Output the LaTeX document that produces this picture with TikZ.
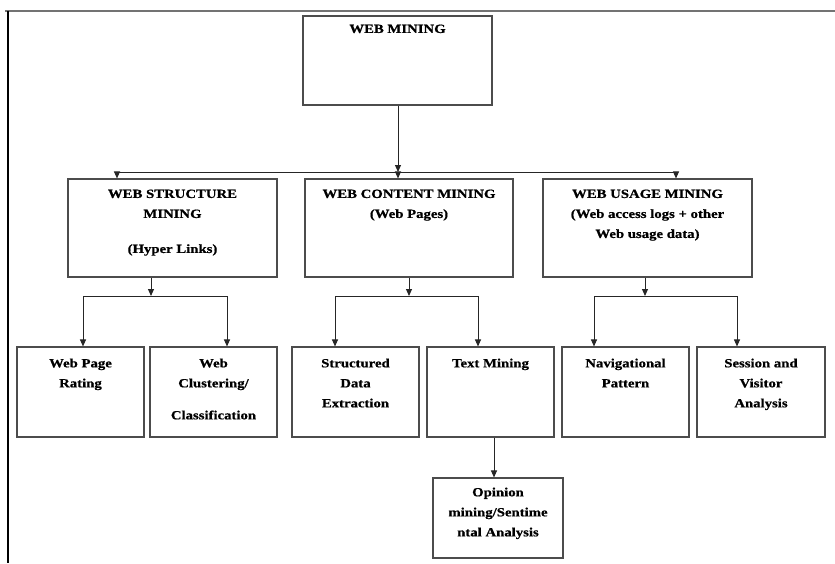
\documentclass[tikz,border=0pt]{standalone}
\usepackage{fontspec}
\setmainfont{Liberation Serif}[FakeStretch=1.18, BoldFeatures={FakeBold=0.8}]
\usetikzlibrary{positioning,arrows.meta}

\begin{document}
\begin{tikzpicture}[x=1pt, y=-1pt,
  box/.style={rectangle, draw=black!70, line width=1.1pt, minimum width=127pt, minimum height=90pt, inner sep=0pt},
  lbl/.style={inner sep=0pt, align=center, font=\fontsize{12.5}{20}\selectfont\bfseries, text=black},
  arr/.style={draw=black!85, line width=1pt, -{Triangle[length=7pt,width=6pt]}}]

% A redrawing of the web mining taxonomy.

\useasboundingbox (0,0) rectangle (835,563);
\draw[black!55, line width=1.2pt] (5,11) -- (835,11);
\draw[line width=1.2pt] (8,11) -- (8,563);

\node[box, minimum width=189pt, minimum height=89pt] (wm) at (397.5,60.5) {};

\node[box, minimum width=209pt, minimum height=98pt] (ws) at (172.5,228) {};
\node[box, minimum width=208pt, minimum height=98pt] (wc) at (409,228) {};
\node[box, minimum width=209pt, minimum height=98pt] (wu) at (647.5,228) {};

\node[box] (pr) at (80.5,392) {};
\node[box] (cl) at (213.5,392) {};
\node[box] (sd) at (355.5,392) {};
\node[box] (tm) at (490.5,392) {};
\node[box] (np) at (625.5,392) {};
\node[box, minimum width=128pt] (sv) at (761,392) {};

\node[box, minimum width=130pt, minimum height=80pt] (op) at (498,518) {};

\node[lbl, below=9pt of wm.north] (wmT) {WEB MINING};
\node[lbl, below=11pt of ws.north] (wsT) {WEB STRUCTURE\\MINING\\[15pt](Hyper Links)};
\node[lbl, below=11pt of wc.north] (wcT) {WEB CONTENT MINING\\(Web Pages)};
\node[lbl, below=11pt of wu.north] (wuT) {WEB USAGE MINING\\(Web access logs + other\\Web usage data)};

\node[lbl, below=12pt of pr.north] (prT) {Web Page\\Rating};
\node[lbl, below=12pt of cl.north] (clT) {Web\\Clustering/\\[12pt]Classification};
\node[lbl, below=12pt of sd.north] (sdT) {Structured\\Data\\Extraction};
\node[lbl, below=12pt of tm.north] (tmT) {Text Mining};
\node[lbl, below=12pt of np.north] (npT) {Navigational\\Pattern};
\node[lbl, below=12pt of sv.north] (svT) {Session and\\Visitor\\Analysis};
\node[lbl, below=10pt of op.north] (opT) {Opinion\\mining/Sentime\\ntal Analysis};

\coordinate (j1) at (398,172);
\coordinate (j2) at (151,296);
\coordinate (j3) at (409,296);
\coordinate (j4) at (645,296);

\draw[arr] (wm.south -| j1) -- (j1);
\draw[arr] (j1) -| ([xshift=-55.5pt]ws.north);
\draw[arr] (j1) -- (j1 |- wc.north);
\draw[arr] (j1) -| ([xshift=28.5pt]wu.north);

\draw[arr] (ws.south -| j2) -- (j2);
\draw[arr] (j2) -| ([xshift=2.5pt]pr.north);
\draw[arr] (j2) -| ([xshift=13.5pt]cl.north);

\draw[arr] (wc.south -| j3) -- (j3);
\draw[arr] (j3) -| ([xshift=-20.5pt]sd.north);
\draw[arr] (j3) -| ([xshift=-12.5pt]tm.north);

\draw[arr] (wu.south -| j4) -- (j4);
\draw[arr] (j4) -| ([xshift=-31.5pt]np.north);
\draw[arr] (j4) -| ([xshift=-24pt]sv.north);

\draw[arr] ([xshift=3.5pt]tm.south) -- ([xshift=3.5pt]tm.south |- op.north);

\end{tikzpicture}
\end{document}
